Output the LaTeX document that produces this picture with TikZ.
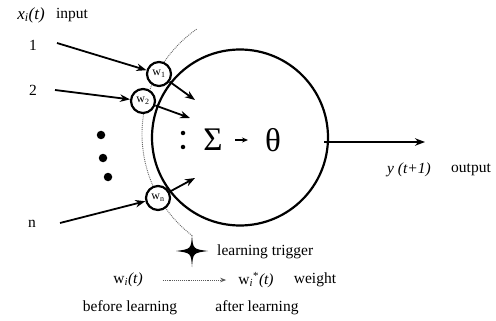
\documentclass[tikz,border=0pt]{standalone}
\usepackage{fontspec}
\setmainfont{Liberation Serif}
\usetikzlibrary{arrows.meta}
\begin{document}
\begin{tikzpicture}[x=1pt,y=1pt,
  lbl/.style={font=\fontsize{15.5}{18}\selectfont, inner sep=0pt},
  wnode/.style={circle, draw, line width=2.2pt, minimum size=24pt, inner sep=0pt, font=\fontsize{12}{13}\selectfont},
  arr/.style={line width=1.8pt, -{Stealth[length=10pt,width=7.5pt]}},
  bigsym/.style={font=\fontsize{33}{36}\selectfont, inner sep=0pt},
  bigdot/.style={circle, fill, inner sep=0pt, minimum size=8.5pt},
  smalldot/.style={circle, fill, inner sep=0pt, minimum size=4.5pt}]
\useasboundingbox (0,0) rectangle (496,-321);
% main cell
\node[circle, draw, line width=2.2pt, minimum size=176pt, inner sep=0pt] (cell) at (240,-137.5) {};
% dotted learning arc
\draw[densely dotted, gray!80!black, line width=0.9pt] (270,-134) ++(125:128) arc[start angle=125, end angle=233, radius=128];
% labels top-left
\node[lbl, font=\fontsize{17}{20}\selectfont\itshape] (xi) at (31,-15) {x\textsubscript{i}(t)};
\node[lbl] (inp) at (72,-15) {input};
\node[lbl] (in1) at (33,-45) {1};
\node[lbl] (in2) at (33,-90) {2};
\node[lbl] (inn) at (32,-224) {n};
% big dots
\node[bigdot] (d1) at (101,-135) {};
\node[bigdot] (d2) at (103,-158) {};
\node[bigdot] (d3) at (108,-177) {};
% weights
\node[wnode, fill=white] (w1) at (159,-74) {w\textsubscript{1}};
\node[wnode, fill=white] (w2) at (143,-101) {w\textsubscript{2}};
\node[wnode, fill=white] (wn) at (158,-198) {w\textsubscript{n}};
% input arrows
\coordinate (s1) at (57,-43);
\coordinate (s2) at (55,-90);
\coordinate (sn) at (60,-223);
\draw[arr] (s1) -- (w1);
\draw[arr] (s2) -- (w2);
\draw[arr] (sn) -- (wn);
% inner arrows
\coordinate (t1) at (195,-100);
\coordinate (t2) at (190,-118);
\coordinate (tn) at (195,-178);
\draw[arr] (w1) -- (t1);
\draw[arr] (w2) -- (t2);
\draw[arr] (wn) -- (tn);
% inner dots
\node[smalldot] (c1) at (183,-133) {};
\node[smalldot] (c2) at (183,-147) {};
% sigma theta
\node[bigsym] (sig) at (213,-140) {Σ};
\node[bigsym] (th) at (273,-140) {θ};
\draw[line width=1.3pt, -{Stealth[length=6pt,width=5pt]}, shorten <=22pt, shorten >=25pt] (sig.center) -- (th.center);
% output
\coordinate (outend) at (425,-142);
\draw[arr] ([xshift=-5pt,yshift=-4.5pt]cell.east) -- (outend);
\node[lbl, font=\fontsize{15.5}{18}\selectfont\itshape] (yout) at (409,-170) {y (t+1)};
\node[lbl] (outl) at (471,-170) {output};
% learning trigger star
\coordinate (trig) at (192,-251);
\fill (192,-235) .. controls (193,-249) .. (208,-251)
  .. controls (193,-253) .. (192,-267)
  .. controls (191,-253) .. (176,-251)
  .. controls (191,-249) .. (192,-235) -- cycle;
\node[lbl, anchor=west] (lt) at (217,-252) {learning trigger};
% weight before/after
\node[lbl] (wbef) at (128,-280) {w\textsubscript{\itshape i}\textit{(t)}};
\node[lbl] (waft) at (256,-280) {w\textsubscript{\itshape i}\textsuperscript{*}\textit{(t)}};
\node[lbl] (wl) at (315,-280) {weight};
\draw[densely dotted, gray!70!black, line width=0.9pt, -{Stealth[length=6pt,width=4.5pt]}, shorten <=20pt, shorten >=12pt] (wbef.east) -- (waft.west);
\node[lbl] (bl) at (130,-308) {before learning};
\node[lbl] (al) at (257,-308) {after learning};
\end{tikzpicture}
\end{document}
